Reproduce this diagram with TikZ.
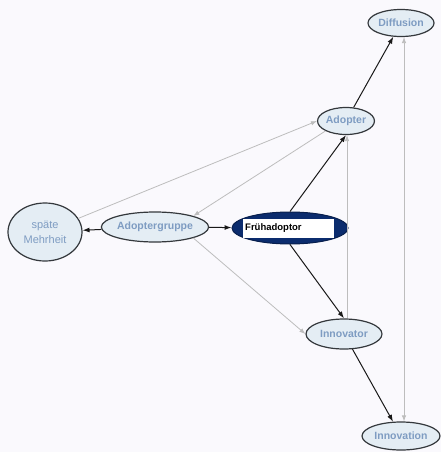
\documentclass[tikz,border=0pt]{standalone}
\usepackage{fontspec}
\setmainfont{Liberation Sans}
\usetikzlibrary{arrows.meta,shapes.geometric}
\definecolor{bgc}{HTML}{FAF9FD}
\definecolor{nfill}{HTML}{E4EDF4}
\definecolor{ntext}{HTML}{7E9CC2}
\definecolor{nborder}{HTML}{34383C}
\definecolor{navy}{HTML}{0B2C6E}
\definecolor{grayline}{HTML}{BDBDBD}
\tikzset{
  concept/.style={ellipse, draw=nborder, line width=1.2pt, fill=nfill, text=ntext,
    font=\fontsize{10.5}{11}\selectfont\bfseries, inner sep=0pt},
  strong/.style={draw=black!90, line width=1pt, -{Latex[length=7pt,width=5pt]}},
  weak/.style={draw=grayline, line width=0.8pt, -{Latex[length=6pt,width=4.5pt]}},
}
\begin{document}
\begin{tikzpicture}[x=1pt,y=-1pt]
\fill[bgc] (0,0) rectangle (441,452);
\useasboundingbox (0,0) rectangle (441,452);
\node[concept, minimum width=66pt, minimum height=27pt] (diff) at (401,23) {Diffusion};
\node[concept, minimum width=56pt, minimum height=27pt] (adopter) at (346,121) {Adopter};
\node[concept, minimum width=74pt, minimum height=58pt, align=center,
  font=\fontsize{11}{15}\selectfont] (spaet) at (45,232) {späte\\Mehrheit};
\node[concept, minimum width=104pt, minimum height=30pt] (gruppe) at (155,227) {Adoptergruppe};
\node[ellipse, draw=navy!70!black, fill=navy, line width=1pt, minimum width=116pt, minimum height=32pt,
  inner sep=0pt] (frueh) at (290,228) {};
\node[fill=white, text=black, font=\fontsize{9.5}{10}\selectfont\bfseries, anchor=west,
  minimum height=19pt, inner sep=2pt, text width=87pt] (fruehlabel) at (243,228) {Frühadoptor};
\node[concept, minimum width=76pt, minimum height=30pt] (innovator) at (344,334) {Innovator};
\node[concept, minimum width=78pt, minimum height=28pt] (innovation) at (401,436) {Innovation};
% gray connectors
\draw[weak] (spaet) -- (adopter.west);
\draw[weak] (adopter.south west) -- (gruppe.north east);
\draw[weak] (gruppe.south east) -- (innovator.west);
\coordinate (ia) at ([xshift=3pt]innovator.north);
\coordinate (ib) at ([xshift=3pt]innovation.north);
\draw[weak] (ia) -- (ia |- adopter.south);
\draw[weak, {Latex[length=6pt,width=4.5pt]}-{Latex[length=6pt,width=4.5pt]}] (ib) -- (ib |- diff.south);
% black connectors
\draw[strong] (frueh.north) -- (adopter.south);
\draw[strong] (frueh.south) -- (innovator.north);
\draw[strong] (adopter) -- (diff);
\draw[strong] (innovator) -- (innovation);
\draw[strong] (gruppe) -- (spaet);
\draw[strong] (gruppe) -- (frueh);
\end{tikzpicture}
\end{document}
